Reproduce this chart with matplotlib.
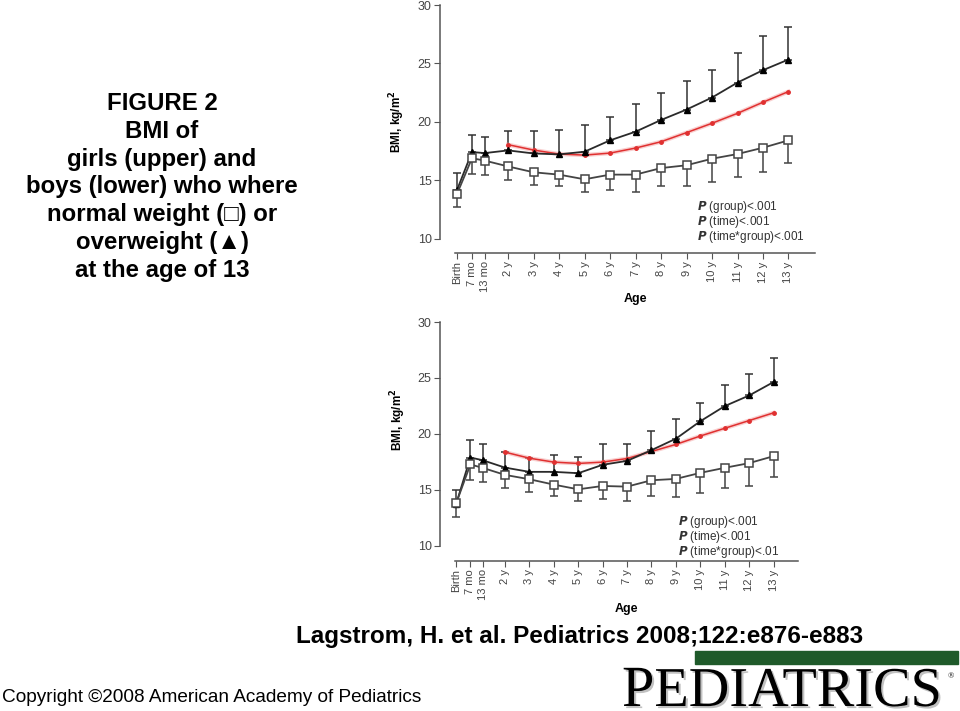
import matplotlib
matplotlib.use("Agg")
import numpy as np
from matplotlib import pyplot as plt
from matplotlib.patches import Rectangle
import matplotlib.patheffects as pe

# ages in years: birth, 7 mo, 13 mo, 2 y ... 13 y
ages = [0, 7 / 12, 13 / 12, 2, 3, 4, 5, 6, 7, 8, 9, 10, 11, 12, 13]
age_labels = ["Birth", "7 mo", "13 mo", "2 y", "3 y", "4 y", "5 y", "6 y",
              "7 y", "8 y", "9 y", "10 y", "11 y", "12 y", "13 y"]
ref_ages = ages[3:]

# girls
girls_normal = [13.86, 16.9, 16.7, 16.2, 15.7, 15.5, 15.1, 15.5, 15.5, 16.06,
                16.3, 16.86, 17.26, 17.8, 18.43]
girls_normal_low = [12.7, 15.57, 15.5, 15.0, 14.6, 14.5, 14.0, 14.2, 14.0, 14.5,
                    14.5, 14.9, 15.26, 15.74, 16.5]
girls_over = [14.2, 17.43, 17.34, 17.57, 17.31, 17.23, 17.46, 18.43, 19.17,
              20.17, 21.06, 22.09, 23.37, 24.43, 25.34]
girls_over_high = [15.63, 18.9, 18.69, 19.26, 19.23, 19.29, 19.71, 20.46, 21.5,
                   22.46, 23.49, 24.46, 25.91, 27.37, 28.14]
girls_ref = [18.06, 17.6, 17.26, 17.17, 17.34, 17.77, 18.31, 19.09, 19.89,
             20.74, 21.69, 22.6]

# boys
boys_normal = [13.8, 17.28, 16.98, 16.35, 15.96, 15.48, 15.06, 15.36, 15.3,
               15.87, 15.99, 16.53, 16.98, 17.4, 18.02]
boys_normal_low = [12.57, 15.9, 15.72, 15.15, 14.82, 14.49, 13.98, 14.22, 14.01,
                   14.46, 14.37, 14.76, 15.15, 15.39, 16.2]
boys_over = [13.74, 17.9, 17.66, 17.0, 16.62, 16.62, 16.5, 17.25, 17.6, 18.56,
             19.58, 21.14, 22.49, 23.44, 24.64]
boys_over_high = [15.03, 19.46, 19.1, 18.38, 17.84, 18.08, 17.99, 19.13, 19.13,
                  20.3, 21.32, 22.81, 24.34, 25.39, 26.77]
boys_ref = [18.38, 17.84, 17.49, 17.37, 17.49, 17.81, 18.44, 19.07, 19.82,
            20.51, 21.2, 21.89]

plt.rcParams['font.family'] = ['Liberation Sans', 'DejaVu Sans']

W, H = 960, 711
fig = plt.figure(figsize=(W / 100, H / 100), dpi=100)


def fx(px):
    return px / W


def fy(py):
    return 1 - py / H


def panel(rect, xlim, ylim, xb, normal, nlow, over, ohigh, ref, ptext, pxy, lab_y, age_y):
    ax = fig.add_axes(rect)
    normal = np.array(normal)
    over = np.array(over)
    ax.errorbar(ages, over, yerr=[np.zeros(len(over)), np.array(ohigh) - over],
                fmt='none', ecolor='#333333', elinewidth=1.1, capsize=3, capthick=1.1, zorder=2)
    ax.errorbar(ages, normal, yerr=[normal - np.array(nlow), np.zeros(len(normal))],
                fmt='none', ecolor='#444444', elinewidth=1.1, capsize=3, capthick=1.1, zorder=2)
    ax.plot(ref_ages, ref, color='#f2a0a0', lw=3, alpha=0.5, zorder=3)
    ax.plot(ref_ages, ref, color='#e03030', lw=1.1, marker='o', markersize=2.5, zorder=4)
    ax.plot(ages, over, color='#2a2a2a', lw=1.3, marker='^', markersize=5,
            markerfacecolor='black', markeredgecolor='black', zorder=5)
    ax.plot(ages, normal, color='#444444', lw=1.3, marker='s', markersize=6,
            markerfacecolor='white', markeredgecolor='#444444', markeredgewidth=1.1, zorder=5)
    ax.set_xlim(*xlim)
    ax.set_ylim(*ylim)
    for s in ['top', 'right']:
        ax.spines[s].set_visible(False)
    ax.spines['left'].set_bounds(10, 30)
    ax.spines['bottom'].set_bounds(xb, xlim[1])
    for s in ['left', 'bottom']:
        ax.spines[s].set_color('#555555')
        ax.spines[s].set_linewidth(1.1)
    ax.set_yticks([10, 15, 20, 25, 30])
    ax.set_xticks(ages)
    ax.set_xticklabels(age_labels, rotation=90, fontsize=8, color='#444444')
    ax.tick_params(axis='y', labelsize=9, labelcolor='#444444', color='#555555', length=4, pad=2)
    ax.tick_params(axis='x', color='#555555', length=4, pad=2)
    ax.set_ylabel('BMI, kg/m$^\\mathbf{2}$', fontsize=8.5, fontweight='bold')
    ax.yaxis.set_label_coords(-0.088, lab_y)
    ax.set_xlabel('Age', fontsize=9, fontweight='bold')
    ax.xaxis.set_label_coords(0.52, age_y)
    for i, t in enumerate(ptext):
        fig.text(fx(pxy[0]), fy(pxy[1] + i * 14.8), r'$\mathbfit{P}$ ' + t,
                 fontsize=8.5, color='#333333', va='center', ha='left')
    return ax


panel([fx(440), fy(253), 375 / W, 248 / H], (-0.67, 14.04), (8.8, 30.0), -0.08,
      girls_normal, girls_normal_low, girls_over, girls_over_high, girls_ref,
      ['(group)<.001', '(time)<.001', '(time*group)<.001'], (697, 207), 0.53, -0.16)
panel([fx(440), fy(561), 358 / W, 239 / H], (-0.66, 14.0), (8.66, 30.0), -0.04,
      boys_normal, boys_normal_low, boys_over, boys_over_high, boys_ref,
      ['(group)<.001', '(time)<.001', '(time*group)<.01'], (678, 522), 0.59, -0.176)

caption = ("FIGURE 2\nBMI of\ngirls (upper) and\nboys (lower) who where\n"
           "normal weight (\u25a1) or\noverweight (\u25b2)\nat the age of 13")
fig.text(fx(162), fy(187), caption, ha='center', va='center', fontsize=17.3,
         fontweight='bold', linespacing=1.27)

fig.text(fx(580), fy(636), "Lagstrom, H. et al. Pediatrics 2008;122:e876-e883",
         ha='center', va='center', fontsize=17.5, fontweight='bold')
fig.text(fx(2), fy(697), "Copyright \u00a92008 American Academy of Pediatrics",
         ha='left', va='center', fontsize=13.7)

fig.patches.append(Rectangle((fx(695), fy(664)), fx(958) - fx(695), 13 / H,
                             transform=fig.transFigure, color='#1f5a2a'))

shadow = [pe.withSimplePatchShadow(offset=(1.5, -1.5), shadow_rgbFace='#999999', alpha=0.6)]
tp = fig.text(fx(622), fy(706), "P", fontsize=42, family='Liberation Serif',
              ha='left', va='baseline', path_effects=shadow)
fig.canvas.draw()
bb = tp.get_window_extent()
fig.text(bb.x1 / W, fy(706), "EDIATRICS", fontsize=40.5, family='Liberation Serif',
         ha='left', va='baseline', path_effects=shadow)
fig.text(fx(948), fy(676), "\u00ae", fontsize=6, family='Liberation Serif',
         ha='left', va='center')

fig.savefig('out.png', dpi=100)
